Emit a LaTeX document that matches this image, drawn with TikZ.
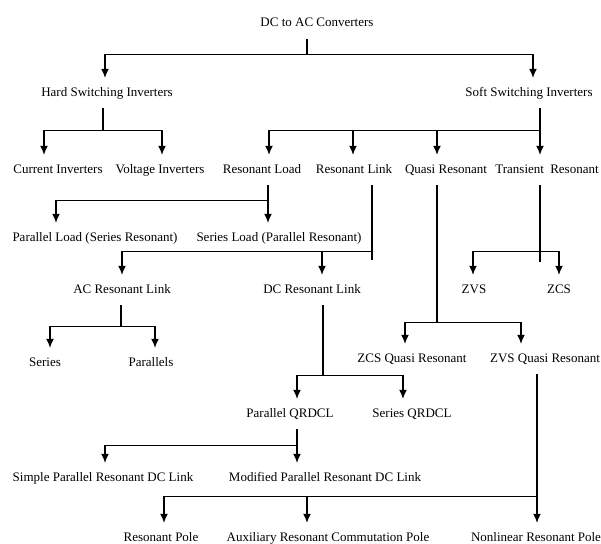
\documentclass[tikz,border=0pt]{standalone}
\usepackage{fontspec}
\setmainfont{Liberation Serif}
\usepackage{tikz}
\usetikzlibrary{arrows.meta,positioning}
\tikzset{%
	txt/.style   = {anchor=base, font=\fontsize{13}{15}\selectfont, text height=9pt, text depth=3pt, inner xsep=2pt, inner ysep=9pt},
	arrow/.style = {line width=1.2pt,-{Latex[length=9pt,width=8pt]}},
	stem/.style  = {line width=1.2pt},
}
\begin{document}
\begin{tikzpicture}[x=1pt,y=-1pt]
		\useasboundingbox (0,0) rectangle (601,543);
		% labels
		\node[txt] (conv)   at (317,27)  {DC to AC Converters};
		\node[txt] (hard)   at (107,96)  {Hard Switching Inverters};
		\node[txt] (soft)   at (529,96)  {Soft Switching Inverters};
		\node[txt] (cur)    at (58,173)  {Current Inverters};
		\node[txt] (volt)   at (160,173) {Voltage Inverters};
		\node[txt] (rload)  at (262,173) {Resonant Load};
		\node[txt] (rlink)  at (354,173) {Resonant Link};
		\node[txt] (quasi)  at (446,173) {Quasi Resonant};
		\node[txt] (trans)  at (547,173) {Transient\hspace{3pt} Resonant};
		\node[txt] (pload)  at (95,241)  {Parallel Load (Series Resonant)};
		\node[txt] (sload)  at (279,241) {Series Load (Parallel Resonant)};
		\node[txt] (aclink) at (122,293) {AC Resonant Link};
		\node[txt] (dclink) at (312,293) {DC Resonant Link};
		\node[txt] (zvs)    at (474,293) {ZVS};
		\node[txt] (zcs)    at (559,293) {ZCS};
		\node[txt] (ser)    at (45,366)  {Series};
		\node[txt] (par)    at (151,366) {Parallels};
		\node[txt] (zcsq)   at (412,362) {ZCS Quasi Resonant};
		\node[txt] (zvsq)   at (545,362) {ZVS Quasi Resonant};
		\node[txt] (pq)     at (290,417) {Parallel QRDCL};
		\node[txt] (sq)     at (412,417) {Series QRDCL};
		\node[txt] (simple) at (103,481) {Simple Parallel Resonant DC Link};
		\node[txt] (mod)    at (325,481) {Modified Parallel Resonant DC Link};
		\node[txt] (rpole)  at (161,541) {Resonant Pole};
		\node[txt] (aux)    at (328,541) {Auxiliary Resonant Commutation Pole};
		\node[txt] (nonl)   at (536,541) {Nonlinear Resonant Pole};
		% top level
		\draw[arrow] ([xshift=-10pt]conv.south) -- ++(0,15) -| ([xshift=-2pt]hard.north);
		\draw[arrow] ([xshift=-10pt]conv.south) -- ++(0,15) -| ([xshift=4pt]soft.north);
		% hard switching
		\draw[arrow] ([xshift=-4pt]hard.south) -- ++(0,22) -| ([xshift=-14pt]cur.north);
		\draw[arrow] ([xshift=-4pt]hard.south) -- ++(0,22) -| ([xshift=2pt]volt.north);
		% soft switching
		\draw[arrow] ([xshift=11pt]soft.south) -- ([xshift=-7pt]trans.north);
		\draw[arrow] ([xshift=11pt]soft.south) ++(0,22) -| ([xshift=7pt]rload.north);
		\draw[arrow] ([xshift=11pt]soft.south) ++(0,22) -| ([xshift=-1pt]rlink.north);
		\draw[arrow] ([xshift=11pt]soft.south) ++(0,22) -| ([xshift=-9pt]quasi.north);
		% resonant load
		\draw[arrow] ([xshift=6pt]rload.south) -- ++(0,15) -| ([xshift=-39pt]pload.north);
		\draw[arrow] ([xshift=6pt]rload.south) -- ([xshift=-11pt]sload.north);
		% resonant link
		\draw[stem]  ([xshift=18pt]rlink.south) -- ++(0,75);
		\draw[arrow] ([xshift=18pt]rlink.south) ++(0,66) -| (aclink.north);
		\draw[arrow] ([xshift=18pt]rlink.south) ++(0,66) -| ([xshift=10pt]dclink.north);
		% transient resonant
		\draw[stem]  ([xshift=-7pt]trans.south) -- ++(0,77);
		\draw[arrow] ([xshift=-7pt]trans.south) ++(0,66) -| ([xshift=-1pt]zvs.north);
		\draw[arrow] ([xshift=-7pt]trans.south) ++(0,66) -| (zcs.north);
		% quasi resonant
		\draw[arrow] ([xshift=-9pt]quasi.south) -- ++(0,137) -| ([xshift=-7pt]zcsq.north);
		\draw[arrow] ([xshift=-9pt]quasi.south) -- ++(0,137) -| ([xshift=-24pt]zvsq.north);
		% ac resonant link
		\draw[arrow] ([xshift=-1pt]aclink.south) -- ++(0,21) -| ([xshift=5pt]ser.north);
		\draw[arrow] ([xshift=-1pt]aclink.south) -- ++(0,21) -| ([xshift=4pt]par.north);
		% dc resonant link
		\draw[arrow] ([xshift=11pt]dclink.south) -- ++(0,70) -| ([xshift=7pt]pq.north);
		\draw[arrow] ([xshift=11pt]dclink.south) -- ++(0,70) -| ([xshift=-9pt]sq.north);
		% parallel qrdcl
		\draw[arrow] ([xshift=7pt]pq.south) -- ++(0,16) -| ([xshift=2pt]simple.north);
		\draw[arrow] ([xshift=7pt]pq.south) -- ([xshift=-28pt]mod.north);
		% zvs quasi resonant
		\draw[arrow] ([xshift=-8pt]zvsq.south) -- ([xshift=1pt]nonl.north);
		\draw[arrow] ([xshift=-8pt]zvsq.south) ++(0,122) -| ([xshift=3pt]rpole.north);
		\draw[arrow] ([xshift=-8pt]zvsq.south) ++(0,122) -| ([xshift=-21pt]aux.north);
	\end{tikzpicture}
\end{document}
